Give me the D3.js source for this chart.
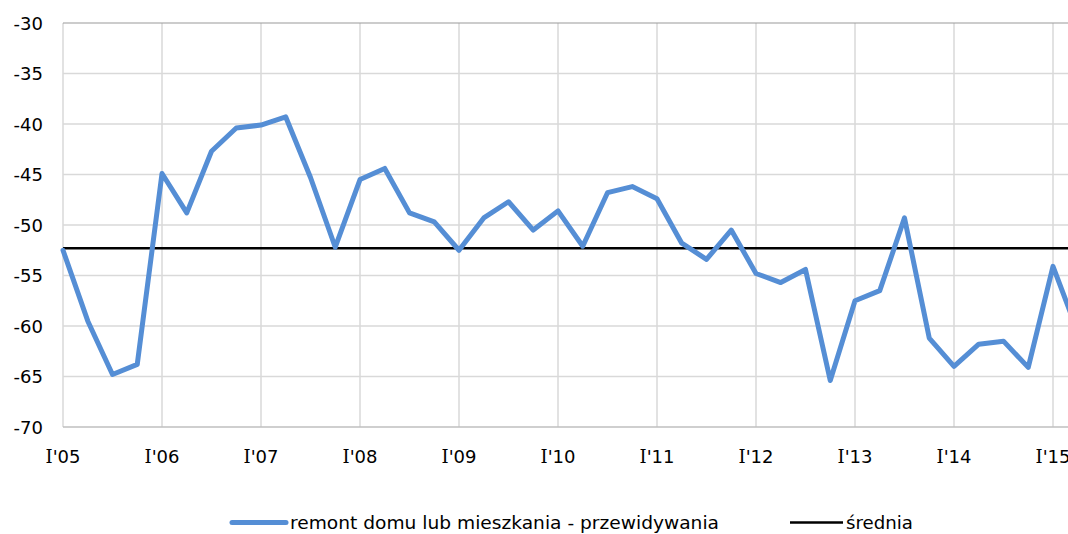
<!DOCTYPE html>
<html>
<head>
<meta charset="utf-8">
<script src="https://cdn.jsdelivr.net/npm/d3@7"></script>
<style>
  html, body { margin: 0; padding: 0; background: #fff; }
  svg { display: block; }
  text { font-family: "DejaVu Sans", Verdana, sans-serif; fill: #000; }
</style>
</head>
<body>
<svg id="chart" width="1068" height="534"></svg>
<script>
// Quarterly series: expected spending on home or flat renovation (balance, pts)
const quarters = [
  "I'05","II'05","III'05","IV'05",
  "I'06","II'06","III'06","IV'06",
  "I'07","II'07","III'07","IV'07",
  "I'08","II'08","III'08","IV'08",
  "I'09","II'09","III'09","IV'09",
  "I'10","II'10","III'10","IV'10",
  "I'11","II'11","III'11","IV'11",
  "I'12","II'12","III'12","IV'12",
  "I'13","II'13","III'13","IV'13",
  "I'14","II'14","III'14","IV'14",
  "I'15","II'15"
];
const renovation = [
  -52.5, -59.5, -64.8, -63.8,
  -44.9, -48.8, -42.7, -40.4,
  -40.1, -39.3, -45.3, -52.2,
  -45.5, -44.4, -48.8, -49.7,
  -52.5, -49.3, -47.7, -50.5,
  -48.6, -52.1, -46.8, -46.2,
  -47.4, -51.8, -53.4, -50.5,
  -54.8, -55.7, -54.4, -65.4,
  -57.5, -56.5, -49.3, -61.2,
  -64.0, -61.8, -61.5, -64.1,
  -54.1, -60.6
];
const average = -52.3;
const yTicks = [-30, -35, -40, -45, -50, -55, -60, -65, -70];
const xTickLabels = ["I'05","I'06","I'07","I'08","I'09","I'10","I'11","I'12","I'13","I'14","I'15"];
const seriesNames = ["remont domu lub mieszkania - przewidywania", "średnia"];

const svg = d3.select("#chart");
const plotLeft = 63, plotTop = 23, plotBottom = 427;
const plotRight = plotLeft + 24.75 * (quarters.length - 1);

const x = d3.scalePoint().domain(quarters).range([plotLeft, plotRight]);
const y = d3.scaleLinear().domain([-70, -30]).range([plotBottom, plotTop]);

// horizontal gridlines
svg.append("g")
  .selectAll("line")
  .data(yTicks.filter(v => v !== -70 && v !== -30))
  .join("line")
  .attr("x1", plotLeft).attr("x2", plotRight)
  .attr("y1", d => y(d)).attr("y2", d => y(d))
  .attr("stroke", "#d9d9d9").attr("stroke-width", 1.5);

// vertical gridlines at first quarter of each year
svg.append("g")
  .selectAll("line")
  .data(xTickLabels)
  .join("line")
  .attr("x1", d => x(d)).attr("x2", d => x(d))
  .attr("y1", plotTop).attr("y2", plotBottom)
  .attr("stroke", "#d9d9d9").attr("stroke-width", 1.5);

// plot border top and category axis
svg.append("line")
  .attr("x1", plotLeft).attr("x2", plotRight)
  .attr("y1", y(-30)).attr("y2", y(-30))
  .attr("stroke", "#9a9a9a").attr("stroke-width", 1.2);
svg.append("line")
  .attr("x1", plotLeft).attr("x2", plotRight)
  .attr("y1", y(-70)).attr("y2", y(-70))
  .attr("stroke", "#bfbfbf").attr("stroke-width", 1.5);

// value axis labels (plain hyphen for negatives)
const yAxis = d3.axisLeft(y).tickValues(yTicks).tickSize(0).tickPadding(0).tickFormat(d => String(d));
const yg = svg.append("g").attr("transform", `translate(${plotLeft - 20},0)`).call(yAxis);
yg.select(".domain").remove();
yg.selectAll("text")
  .attr("font-family", "'DejaVu Sans', Verdana, sans-serif")
  .attr("font-size", 18).attr("fill", "#000")
  .attr("dy", "0.36em");

// category axis labels (roman numeral quarter + year)
const xg = svg.append("g");
xg.selectAll("text")
  .data(xTickLabels)
  .join("text")
  .attr("x", d => x(d))
  .attr("y", 463)
  .attr("text-anchor", "middle")
  .attr("font-size", 18)
  .each(function(d) {
    const t = d3.select(this);
    t.append("tspan").attr("font-family", "'DejaVu Serif', serif").text(d.slice(0, d.indexOf("'")));
    t.append("tspan").text(d.slice(d.indexOf("'")));
  });

// average line
svg.append("line")
  .attr("x1", plotLeft).attr("x2", plotRight)
  .attr("y1", y(average)).attr("y2", y(average))
  .attr("stroke", "#000").attr("stroke-width", 2.5);

// series line
const line = d3.line()
  .x((d, i) => x(quarters[i]))
  .y(d => y(d));
svg.append("path")
  .datum(renovation)
  .attr("d", line)
  .attr("fill", "none")
  .attr("stroke", "#558ed5")
  .attr("stroke-width", 5)
  .attr("stroke-linejoin", "round")
  .attr("stroke-linecap", "round");

// legend
const lg = svg.append("g");
lg.append("line").attr("x1", 232).attr("x2", 286).attr("y1", 522.5).attr("y2", 522.5)
  .attr("stroke", "#558ed5").attr("stroke-width", 5).attr("stroke-linecap", "round");
lg.append("text").attr("x", 290).attr("y", 529).attr("font-size", 18)
  .attr("textLength", 429).attr("lengthAdjust", "spacingAndGlyphs")
  .text(seriesNames[0]);
lg.append("line").attr("x1", 790).attr("x2", 843).attr("y1", 522.5).attr("y2", 522.5)
  .attr("stroke", "#000").attr("stroke-width", 2.5);
lg.append("text").attr("x", 846).attr("y", 529).attr("font-size", 18)
  .attr("textLength", 67).attr("lengthAdjust", "spacingAndGlyphs")
  .text(seriesNames[1]);
</script>
</body>
</html>
